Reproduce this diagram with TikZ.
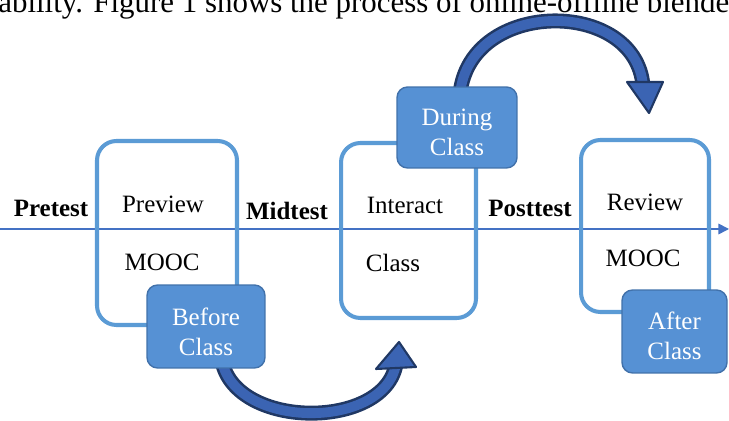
\documentclass[tikz,border=0pt]{standalone}
\usepackage{fontspec}
\setmainfont{Liberation Serif}
\usetikzlibrary{arrows.meta,backgrounds}
\definecolor{boxblue}{RGB}{91,155,213}
\definecolor{tagblue}{RGB}{86,145,212}
\definecolor{tagedge}{RGB}{65,113,170}
\definecolor{arrowdark}{RGB}{32,56,100}
\definecolor{arrowfill}{RGB}{59,100,179}
\definecolor{axisblue}{RGB}{68,114,196}
\tikzset{
  phase/.style={draw=boxblue, line width=2.3pt, rounded corners=11pt, inner sep=0pt},
  tag/.style={draw=tagedge, line width=0.8pt, fill=tagblue, rounded corners=6pt, inner sep=0pt},
  tagtext/.style={text=white, align=center, inner sep=0pt, font=\fontsize{14.2}{17}\selectfont},
  word/.style={font=\fontsize{14.2}{17}\selectfont},
  test/.style={font=\fontsize{14.2}{17}\selectfont\bfseries},
  axis/.style={draw=axisblue, line width=0.9pt, -{Triangle[length=6pt,width=6pt]}},
  shaftout/.style={draw=arrowdark, line width=8.5pt},
  shaftin/.style={draw=arrowfill, line width=5.6pt},
  head/.style={fill=arrowfill, draw=arrowdark, line width=1.2pt, line join=round}
}
\begin{document}
\begin{tikzpicture}[x=0.02cm,y=-0.02cm]
\useasboundingbox (0,0) rectangle (729,421);
\clip (0,0) rectangle (729,421);
% line of the page text, cut off at the top
\node[anchor=base west, inner sep=0pt, font=\fontsize{17.6}{20}\selectfont] (pagetext) at (-2,13)
  {ability. Figure 1 shows the process of online-offline blended};
% time line
\coordinate (lineL) at (0,229);
\coordinate (lineR) at (729,229);
\draw[axis] (lineL) -- (lineR);
% the three phases
\node[phase, minimum width=2.8cm, minimum height=3.68cm] (preview) at (167,233) {};
\node[phase, minimum width=2.7cm, minimum height=3.5cm] (interact) at (408.5,230.5) {};
\node[phase, minimum width=2.56cm, minimum height=3.44cm] (review) at (645,226) {};
\node[word] (previewtxt) at (163,204) {Preview};
\node[word] (mooc1) at (162,262) {MOOC};
\node[word] (interacttxt) at (405,205) {Interact};
\node[word] (classtxt) at (393,263) {Class};
\node[word] (reviewtxt) at (645,202) {Review};
\node[word] (mooc2) at (643,258) {MOOC};
% tests on the line
\node[test] (pretest) at (51,208) {Pretest};
\node[test] (midtest) at (287,211) {Midtest};
\node[test] (posttest) at (530,208) {Posttest};
% tags
\node[tag, minimum width=2.36cm, minimum height=1.66cm] (before) at (206,326.5) {};
\node[tag, minimum width=2.4cm, minimum height=1.62cm] (during) at (457,127.5) {};
\node[tag, minimum width=2.1cm, minimum height=1.66cm] (after) at (674.5,331.5) {};
\node[tagtext] (beforetxt) at ([yshift=-0.1cm]before) {Before\\Class};
\node[tagtext] (duringtxt) at ([yshift=-0.1cm]during) {During\\Class};
\node[tagtext] (aftertxt) at ([yshift=-0.09cm]after) {After\\Class};
% curved arrows, behind the tags
\begin{scope}[on background layer]
\coordinate (b0) at ([xshift=0.32cm,yshift=0.15cm]before.south);
\coordinate (b1) at (396,364);
\draw[shaftout] (b0) .. controls (236,430) and (385,430) .. (b1);
\draw[shaftin] (b0) .. controls (236,430) and (385,430) .. (b1);
\coordinate (t0) at ([xshift=0.06cm,yshift=-0.15cm]during.north);
\coordinate (t1) at (643,86);
\draw[shaftout] (t0) .. controls (470,-2) and (636,-2) .. (t1);
\draw[shaftin] (t0) .. controls (470,-2) and (636,-2) .. (t1);
\end{scope}
\filldraw[head] (376,369) -- (399,342) -- (416,367) -- cycle;
\filldraw[head] (627,82) -- (649,113) -- (663,82) -- cycle;
\end{tikzpicture}
\end{document}
